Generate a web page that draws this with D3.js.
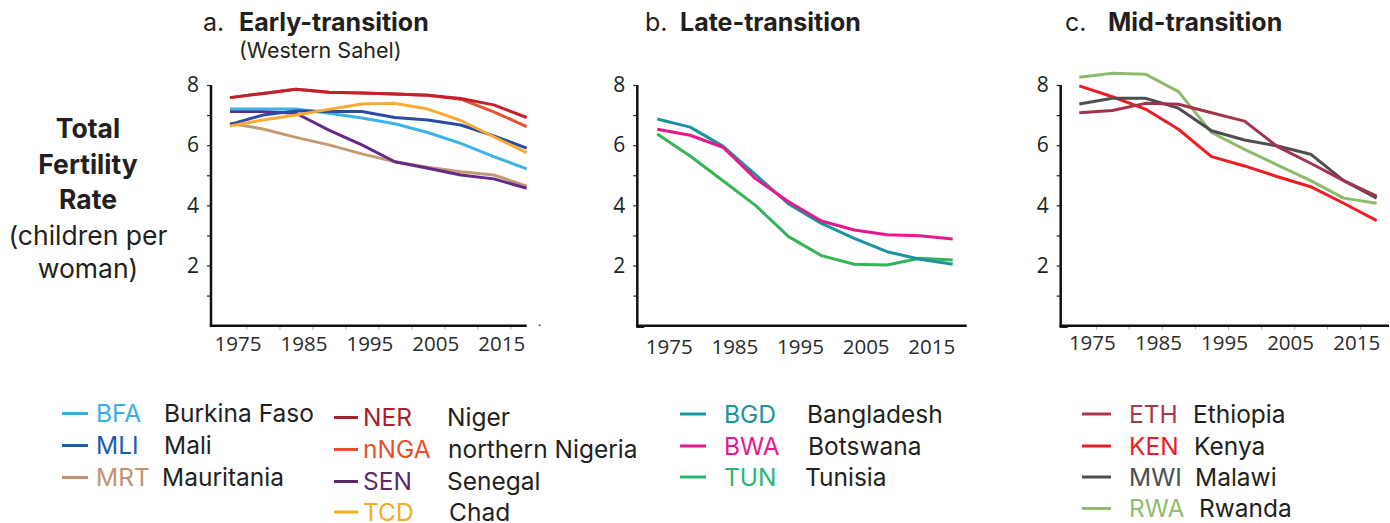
<!DOCTYPE html>
<html><head><meta charset="utf-8">
<script src="https://cdn.jsdelivr.net/npm/d3@7"></script>
<style>
html,body{margin:0;padding:0;background:#fff;}
svg{display:block;font-family:Inter, "Open Sans", sans-serif;}
</style></head>
<body>
<svg id="chart" width="1390" height="523"></svg>
<script>
const years = [1972.5,1977.5,1982.5,1987.5,1992.5,1997.5,2002.5,2007.5,2012.5,2017.5];
const yTicks = [1,2,3,4,5,6,7,8];
const xTicks = [1975,1980,1985,1990,1995,2000,2005,2010,2015];
const xLabels = [1975,1985,1995,2005,2015];

// panel a: Early-transition (Western Sahel)
const codesA = ["BFA","MLI","MRT","NER","nNGA","SEN","TCD"];
const namesA = ["Burkina Faso","Mali","Mauritania","Niger","northern Nigeria","Senegal","Chad"];
const BFA  = [7.20,7.20,7.20,7.06,6.90,6.71,6.42,6.06,5.62,5.21];
const MLI  = [6.69,7.00,7.14,7.12,7.12,6.92,6.84,6.67,6.31,5.90];
const MRT  = [6.73,6.54,6.26,6.01,5.71,5.45,5.27,5.12,5.01,4.64];
const NER  = [7.58,7.72,7.86,7.76,7.73,7.70,7.66,7.55,7.34,6.92];
const nNGA = [7.58,7.72,7.86,7.76,7.73,7.70,7.66,7.53,7.11,6.62];
const SEN  = [7.12,7.12,7.06,6.50,6.01,5.45,5.23,5.01,4.88,4.57];
const TCD  = [6.64,6.84,7.00,7.19,7.37,7.39,7.20,6.82,6.28,5.75];

// panel b: Late-transition
const codesB = ["BGD","BWA","TUN"];
const namesB = ["Bangladesh","Botswana","Tunisia"];
const BGD = [6.87,6.60,5.97,5.01,4.05,3.40,2.90,2.46,2.21,2.04];
const BWA = [6.53,6.33,5.93,4.88,4.12,3.48,3.18,3.02,2.99,2.88];
const TUN = [6.37,5.64,4.82,3.99,2.96,2.33,2.04,2.02,2.24,2.18];

// panel c: Mid-transition
const codesC = ["ETH","KEN","MWI","RWA"];
const namesC = ["Ethiopia","Kenya","Malawi","Rwanda"];
const ETH = [7.08,7.15,7.39,7.36,7.08,6.80,5.95,5.40,4.82,4.31];
const KEN = [7.97,7.61,7.20,6.53,5.62,5.31,4.95,4.62,4.07,3.49];
const MWI = [7.37,7.56,7.56,7.23,6.48,6.17,5.97,5.70,4.82,4.24];
const RWA = [8.26,8.39,8.36,7.78,6.42,5.86,5.34,4.82,4.24,4.07];

const colors = {
  BFA:"#3db3e6", MLI:"#2b4c9e", MRT:"#c59a70", NER:"#c3202e", nNGA:"#e9522b", SEN:"#65298a", TCD:"#f9aa33",
  BGD:"#1a929f", BWA:"#e8178a", TUN:"#36b556",
  ETH:"#a3334d", KEN:"#ee1c25", MWI:"#4e4e50", RWA:"#8fba6c"
};
const legendColors = {
  BFA:"#3aaee2", MLI:"#1b5ea8", MRT:"#c49171", NER:"#a9212a", nNGA:"#e5512a", SEN:"#5b2a6c", TCD:"#f3ab1f",
  BGD:"#1996a2", BWA:"#e6198a", TUN:"#2bb673",
  ETH:"#a8364f", KEN:"#ed1c24", MWI:"#4d4d4f", RWA:"#92bb6f"
};

const TXT = "#231f20";
const TICKFONT = "'Open Sans', sans-serif";
const svg = d3.select("#chart");

const panels = [
  {letter:"a.", title:"Early-transition", sub:"(Western Sahel)", titleX:203, boldX:239,
   axisX:211, r0:230, r1:526.7, axisEnd:526.7, labelDx:-9, showXTicks:true, labelY:351, cornerHook:false,
   order:["nNGA","NER","MRT","SEN","BFA","MLI","TCD"],
   series:{BFA,MLI,MRT,NER,nNGA,SEN,TCD}},
  {letter:"b.", title:"Late-transition", sub:null, titleX:645, boldX:680,
   axisX:637.3, r0:657.3, r1:952.7, axisEnd:966.7, labelDx:-5, showXTicks:false, labelY:354, cornerHook:true,
   order:["TUN","BGD","BWA"],
   series:{BGD,BWA,TUN}},
  {letter:"c.", title:"Mid-transition", sub:null, titleX:1065, boldX:1108,
   axisX:1060.7, r0:1079.3, r1:1376.7, axisEnd:1389, labelDx:-4, showXTicks:true, labelY:350, cornerHook:true,
   order:["RWA","KEN","MWI","ETH"],
   series:{ETH,KEN,MWI,RWA}}
];

const yScale = d3.scaleLinear().domain([0,8]).range([325.7,85]);

panels.forEach(p => {
  const g = svg.append("g");
  const x = d3.scaleLinear().domain([years[0], years[years.length-1]]).range([p.r0, p.r1]);

  // titles
  const t = g.append("text").attr("y",31).attr("fill",TXT).style("font-size","25px");
  t.append("tspan").attr("x",p.titleX).text(p.letter);
  t.append("tspan").attr("x",p.boldX).style("font-weight","700").text(p.title);
  if (p.sub) g.append("text").attr("x",p.boldX).attr("y",58).attr("fill",TXT)
     .style("font-size","21.5px").text(p.sub);

  // y axis
  const yAxis = d3.axisLeft(yScale).tickValues(yTicks).tickSize(4)
    .tickFormat(d => d % 2 === 0 ? d : "");
  const ya = g.append("g").attr("transform",`translate(${p.axisX},0)`).call(yAxis);
  ya.select(".domain").remove();
  ya.selectAll(".tick line").attr("stroke","#222").attr("stroke-width",1.2);
  ya.selectAll(".tick text").attr("x",-12).attr("fill","#1a261c")
    .style("font-size","21px").style("font-family",TICKFONT);

  // x axis
  const xAxis = d3.axisBottom(x).tickValues(xTicks).tickSize(p.showXTicks ? 4 : 0)
    .tickFormat(d => xLabels.includes(d) ? d : "");
  const xa = g.append("g").attr("transform",`translate(0,${yScale(0)})`).call(xAxis);
  xa.select(".domain").remove();
  xa.selectAll(".tick line").attr("stroke","#aaa").attr("stroke-width",1);
  xa.selectAll(".tick text").attr("dx",p.labelDx).attr("y",p.labelY - yScale(0)).attr("dy",0)
    .attr("fill","#2a2a2a").style("font-size","20.5px").style("font-family",TICKFONT);

  // axis lines
  g.append("line").attr("x1",p.axisX).attr("x2",p.axisX).attr("y1",yScale(8)).attr("y2",yScale(0)+1.2)
    .attr("stroke","#111").attr("stroke-width",2.5);
  g.append("line").attr("x1",p.axisX-1.2).attr("x2",p.axisEnd).attr("y1",yScale(0)).attr("y2",yScale(0))
    .attr("stroke","#111").attr("stroke-width",2.5);
  if (p.cornerHook) {
    g.append("line").attr("x1",p.axisX-1).attr("x2",p.axisX+7).attr("y1",yScale(0)+1).attr("y2",yScale(0)+1)
      .attr("stroke","#111").attr("stroke-width",2.5);
  } else {
    g.append("circle").attr("cx",p.axisEnd+13).attr("cy",yScale(0)-0.5).attr("r",1).attr("fill","#555");
  }

  // lines
  const line = d3.line().x((d,i)=>x(years[i])).y(d=>yScale(d));
  p.order.forEach(code => {
    g.append("path").datum(p.series[code]).attr("d",line)
      .attr("fill","none").attr("stroke",colors[code]).attr("stroke-width",3)
      .attr("stroke-linejoin","round");
  });
});

// y-axis title
const yt = svg.append("text").attr("text-anchor","middle").attr("fill",TXT).style("font-size","26.5px");
[["Total",138,700],["Fertility",174,700],["Rate",209,700],["(children per",245,400],["woman)",278,400]]
  .forEach(([s,y,w]) => yt.append("tspan").attr("x",88).attr("y",y).style("font-weight",w).text(s));

// legends
const LFONT = "24.5px";
function legend(codes, names, cols, rows, layout) {
  codes.forEach((c,i) => {
    const L = layout[cols[i]];
    const y = L.ys[rows[i]];
    svg.append("line").attr("x1",L.l0).attr("x2",L.l1).attr("y1",y).attr("y2",y)
      .attr("stroke",legendColors[c]).attr("stroke-width",3);
    svg.append("text").attr("x",L.codeX).attr("y",y+8.5).attr("fill",legendColors[c])
      .style("font-size",LFONT).text(c);
    svg.append("text").attr("x",L.nameX[rows[i]]).attr("y",y+8.5).attr("fill",TXT)
      .style("font-size",LFONT).text(names[i]);
  });
}
legend(codesA, namesA, [0,0,0,1,1,1,1], [0,1,2,0,1,2,3], [
  {l0:62,l1:88,codeX:96,ys:[413.5,445.5,477.5],nameX:[164,164,162]},
  {l0:334,l1:358,codeX:363,ys:[417.5,449.5,481.5,512],nameX:[447,448,447,449]}
]);
legend(codesB, namesB, [0,0,0], [0,1,2], [
  {l0:680,l1:706,codeX:724,ys:[414,446,477],nameX:[807,808,805]}
]);
legend(codesC, namesC, [0,0,0,0], [0,1,2,3], [
  {l0:1082,l1:1111,codeX:1129,ys:[414,446,477,508.5],nameX:[1193,1194,1195,1199]}
]);
</script>
</body></html>
